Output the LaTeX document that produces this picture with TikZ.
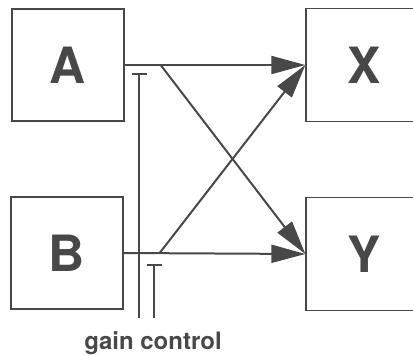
\documentclass[tikz,border=0pt]{standalone}
\usepackage{fontspec}
\setmainfont{TeX Gyre Heros}
\usetikzlibrary{arrows.meta}
\definecolor{ink}{RGB}{72,72,72}

\begin{document}
\begin{tikzpicture}[x=1pt,y=-1pt]
			\useasboundingbox (0,0) rectangle (413,356);
			\node[draw,minimum width=112pt,minimum height=112pt,color=ink,line width=1.3pt,font=\bfseries\fontsize{50}{50}\selectfont] (a) at (68,65){A};
			\node[draw,minimum width=112pt,minimum height=112pt,color=ink,line width=1.3pt,font=\bfseries\fontsize{50}{50}\selectfont] (b) at (67,253){B};
			\node[draw,minimum width=116pt,minimum height=113pt,color=ink,line width=1.3pt,font=\bfseries\fontsize{50}{50}\selectfont] (x) at (364,65){X};
			\node[draw,minimum width=116pt,minimum height=113pt,color=ink,line width=1.3pt,font=\bfseries\fontsize{50}{50}\selectfont] (y) at (364,254){Y};
			\coordinate (ja) at ([xshift=36pt]a.east);
			\coordinate (jb) at ([xshift=36pt]b.east);
			\draw (a.east) edge [-{Triangle[length=34pt,width=18pt]}, line width=2pt, color=ink] (x.west);
			\draw (b.east) edge [-{Triangle[length=34pt,width=18pt]}, line width=2pt, color=ink] (y.west);
			\draw (ja) edge [-{Triangle[length=34pt,width=18pt]}, line width=2pt, color=ink] (y.west);
			\draw (jb) edge [-{Triangle[length=34pt,width=18pt]}, line width=2pt, color=ink] (x.west);
			% gain control inputs
			\coordinate (g1) at (139,73);
			\coordinate (g1e) at (139,318);
			\coordinate (g2) at (154,264);
			\coordinate (g2e) at (154,318);
			\draw (g1) edge [{Bar[width=15pt]}-, line width=1.5pt, color=ink] (g1e);
			\draw (g2) edge [{Bar[width=15pt]}-, line width=1.5pt, color=ink] (g2e);
			\node[color=ink,font=\bfseries\fontsize{24}{24}\selectfont] (gc) at (153,343){gain control};
		\end{tikzpicture}
\end{document}
